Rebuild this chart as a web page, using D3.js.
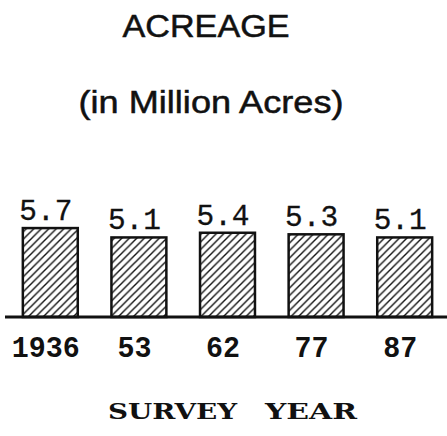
<!DOCTYPE html>
<html>
<head>
<meta charset="utf-8">
<script src="https://cdn.jsdelivr.net/npm/d3@7"></script>
<style>
html,body{margin:0;padding:0;background:#fff;}
svg{display:block;}
</style>
</head>
<body>
<svg id="chart" width="447" height="436"></svg>
<script>
const categories = ["1936", "53", "62", "77", "87"];
const values = [5.7, 5.1, 5.4, 5.3, 5.1];
const valueLabels = ["5.7", "5.1", "5.4", "5.3", "5.1"];
const titleLines = ["ACREAGE", "(in Million Acres)"];
const xTitleWords = ["SURVEY", "YEAR"];

const svg = d3.select("#chart");
const baseY = 317;

const x = d3.scaleBand().domain(categories).range([6, 449]).paddingInner(0.38).paddingOuter(0.19);
const y = d3.scaleLinear().domain([0, 6]).range([baseY, baseY - 6 * 15.6]);

// hatch pattern
const defs = svg.append("defs");
const pat = defs.append("pattern")
  .attr("id", "hatch")
  .attr("patternUnits", "userSpaceOnUse")
  .attr("width", 7.5).attr("height", 7.5);
pat.append("rect").attr("width", 7.5).attr("height", 7.5).attr("fill", "#fff");
pat.append("path")
  .attr("d", "M-1,8.5 L8.5,-1 M-2,2 L2,-2 M5.5,9.5 L9.5,5.5")
  .attr("stroke", "#111").attr("stroke-width", 1.4);

// titles
svg.append("text").attr("x", 206).attr("y", 37).attr("text-anchor", "middle")
  .attr("font-family", "Liberation Sans, Arial, sans-serif").attr("font-size", 30.5)
  .attr("textLength", 167).attr("lengthAdjust", "spacingAndGlyphs")
  .attr("fill", "#111").attr("stroke", "#111").attr("stroke-width", 0.5)
  .text(titleLines[0]);
svg.append("text").attr("x", 211).attr("y", 113).attr("text-anchor", "middle")
  .attr("font-family", "Liberation Sans, Arial, sans-serif").attr("font-size", 31)
  .attr("textLength", 265).attr("lengthAdjust", "spacingAndGlyphs")
  .attr("fill", "#111").attr("stroke", "#111").attr("stroke-width", 0.5)
  .text(titleLines[1]);

// bars
svg.selectAll("rect.bar").data(values).enter().append("rect")
  .attr("class", "bar")
  .attr("x", (d, i) => x(categories[i]))
  .attr("y", d => y(d))
  .attr("width", x.bandwidth())
  .attr("height", d => baseY - y(d))
  .attr("fill", "url(#hatch)")
  .attr("stroke", "#111").attr("stroke-width", 2.5);

// value labels
svg.selectAll("text.val").data(values).enter().append("text")
  .attr("class", "val")
  .attr("x", (d, i) => x(categories[i]) + x.bandwidth() / 2 - 4.5)
  .attr("y", d => y(d) - 8)
  .attr("text-anchor", "middle")
  .attr("font-family", "Liberation Mono, Courier New, monospace")
  .attr("font-size", 30)
  .attr("textLength", 53).attr("lengthAdjust", "spacingAndGlyphs")
  .attr("fill", "#111").attr("stroke", "#111").attr("stroke-width", 0.3)
  .text((d, i) => valueLabels[i]);

// baseline
svg.append("line").attr("x1", 5).attr("x2", 447).attr("y1", baseY).attr("y2", baseY)
  .attr("stroke", "#111").attr("stroke-width", 3);

// x axis labels
const xAxis = d3.axisBottom(x).tickSize(0).tickPadding(0);
const gx = svg.append("g").attr("transform", `translate(-4.5,${baseY})`).call(xAxis);
gx.select(".domain").remove();
gx.selectAll("text")
  .attr("y", 40).attr("dy", null)
  .attr("font-family", "Liberation Mono, Courier New, monospace")
  .attr("font-size", 30).attr("font-weight", "bold")
  .attr("fill", "#111")
  .attr("textLength", d => d.length * 17).attr("lengthAdjust", "spacingAndGlyphs");

// x title
const titleX = [108, 265];
const titleW = [129, 92];
svg.selectAll("text.xt").data(xTitleWords).enter().append("text")
  .attr("class", "xt")
  .attr("x", (d, i) => titleX[i]).attr("y", 419)
  .attr("font-family", "DejaVu Serif, Liberation Serif, serif").attr("font-size", 22.5)
  .attr("font-weight", "bold")
  .attr("textLength", (d, i) => titleW[i]).attr("lengthAdjust", "spacingAndGlyphs")
  .attr("fill", "#111")
  .text(d => d);
</script>
</body>
</html>
